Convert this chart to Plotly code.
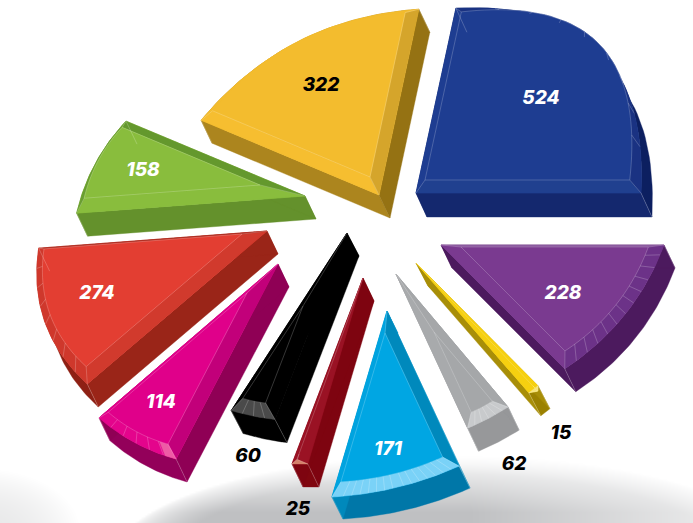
import math
import numpy as np
import plotly.graph_objects as go

# ---- data ----
names = ["blue", "purple", "yellow", "gray", "cyan", "darkred", "black", "magenta", "red", "green", "amber"]
values = [524, 228, 15, 62, 171, 25, 60, 114, 274, 158, 322]

# ---- drawing set-up for the exploded perspective pie (not data) ----
# apex position, first edge angle (clockwise from 12 o'clock), angular stretch, edge radii, arc bulge
GEOM = {
    "blue":    dict(o=(416, 193), t=12.2,  s=0.8055, r=(189, 225), b=72),
    "purple":  dict(o=(441, 245), t=90.0,  s=1.0707, r=(223, 175), b=13),
    "yellow":  dict(o=(416, 263), t=135.2, s=1.374,  r=(173, 172), b=0),
    "gray":    dict(o=(396, 274), t=139.9, s=1.330,  r=(174, 170), b=1),
    "cyan":    dict(o=(387, 311), t=155.1, s=1.313,  r=(171, 194), b=6),
    "darkred": dict(o=(363, 278), t=196.5, s=0.955,  r=(194, 199), b=0),
    "black":   dict(o=(347, 233), t=201.1, s=1.085,  r=(200, 212), b=1),
    "magenta": dict(o=(278, 264), t=207.6, s=1.033,  r=(220, 236), b=5),
    "red":     dict(o=(267, 231), t=229.6, s=0.7147, r=(236, 229), b=19),
    "green":   dict(o=(305, 196), t=265.7, s=0.927,  r=(229, 194), b=7),
    "amber":   dict(o=(379, 195), t=-67.2, s=1.336,  r=(193, 190), b=26),
}
# extrusion vector, inner-face apex shift, inner-face scale, ticks on the rim band, extra inner bulge
BEVEL = {
    "blue":    dict(e=(11, 24), i=(9, -13),  k=0.91,  n=8,  x=9),
    "purple":  dict(e=(11, 23), i=(20, 2),   k=0.84,  n=11, x=0),
    "yellow":  dict(e=(12, 23), i=(117, 123), k=0.04, n=0,  x=0),
    "gray":    dict(e=(11, 23), i=(38, 58),  k=0.52,  n=5,  x=0),
    "cyan":    dict(e=(11, 22), i=(-2, 22),  k=0.80,  n=14, x=0),
    "darkred": dict(e=(11, 23), i=(-64, 176), k=0.03, n=0,  x=0),
    "black":   dict(e=(12, 23), i=(-44, 73), k=0.52,  n=3,  x=0),
    "magenta": dict(e=(11, 23), i=(-31, 29), k=0.775, n=5,  x=0),
    "red":     dict(e=(11, 23), i=(-25, 3),  k=0.867, n=7,  x=0),
    "green":   dict(e=(11, 23), i=(-45, -11), k=0.77, n=0,  x=0),
    "amber":   dict(e=(11, 23), i=(-9, -18), k=0.885, n=0,  x=0),
}
# face, band along edge A, band along edge B, rim band, wall A, wall B, rim wall
PAINT = {
    "blue":    ("#1E3D91", "#1E3D91", "#20408F", "#1A3282", "#14286E", "#14286E", "#0C1F60"),
    "purple":  ("#7A3A90", "#8C5AA0", "#7A3A90", "#6C3288", "#4C1A5E", "#4C1A5E", "#4C1A5E"),
    "yellow":  ("#F6D010", "#F6D010", "#F6D010", "#F5E37A", "#A88E08", "#A88E08", "#9B8100"),
    "gray":    ("#A5A7A9", "#A5A7A9", "#A8AAAC", "#C8CACC", "#969799", "#969799", "#97989A"),
    "cyan":    ("#00A6E3", "#0089BC", "#00A3DF", "#7AD2F7", "#0089BC", "#0089BC", "#0077A8"),
    "darkred": ("#9A1224", "#9A1224", "#9A1224", "#D4806A", "#7E0410", "#7E0410", "#80060F"),
    "black":   ("#000000", "#000000", "#000000", "#4A4A4A", "#000000", "#000000", "#000000"),
    "magenta": ("#E0008A", "#C2007A", "#E0008A", "#E4048C", "#8F0055", "#8F0055", "#93005A"),
    "red":     ("#E33E32", "#D13A2D", "#A52A1E", "#CF382C", "#9A2518", "#9A2518", "#8E2014"),
    "green":   ("#89BD3D", "#89BD3D", "#64982D", "#6A9E30", "#64912C", "#64912C", "#64912C"),
    "amber":   ("#F3BC2E", "#F6BE30", "#D5A52B", "#F3BC2E", "#AC851E", "#957213", "#957213"),
}
TIP = {"magenta": "#EE5BA5"}
# label anchor relative to the apex, label colour
LABEL = {
    "blue": ((125, -96), "white"), "purple": ((122, 47), "white"), "yellow": ((145, 169), "black"),
    "gray": ((118, 189), "black"), "cyan": ((1, 137), "white"), "darkred": ((-65, 230), "black"),
    "black": ((-99, 222), "black"), "magenta": ((-117, 137), "white"), "red": ((-170, 61), "white"),
    "green": ((-162, -27), "white"), "amber": ((-58, -111), "black"),
}
LABEL_DROP = 2
FONT = "Inter, 'Open Sans', sans-serif"
total = sum(values)
fig = go.Figure()

# soft floor shadow behind the pie
gx = np.arange(0, 694, 2.0)
gy = np.arange(444, 524, 2.0)
X, Y = np.meshgrid(gx, gy)
main_d = ((X - 450) / 340.0) ** 2 + ((Y - 563) / 108.0) ** 2
main = np.clip((1 - main_d) * 3.2, 0, 1) ** 0.6 * np.clip((Y - 452) / 60.0, 0, 1)
main = main * np.clip((830 - X) / 360.0, 0, 1)
corner_d = ((X + 20) / 100.0) ** 2 + ((Y - 530) / 62.0) ** 2
corner = np.clip(1 - corner_d, 0, 1) * 0.36
shade = np.maximum(main, corner)
fig.add_trace(go.Heatmap(x=gx, y=gy, z=shade, zmin=0, zmax=1, showscale=False, hoverinfo="skip",
                         colorscale=[[0, "#FFFFFF"], [1, "#BFC0C2"]], zsmooth="best"))


def poly(points, color):
    pts = list(points) + [points[0]]
    fig.add_trace(go.Scatter(x=[p[0] for p in pts], y=[p[1] for p in pts], mode="lines", fill="toself",
                             fillcolor=color, line=dict(color=color, width=0.4), hoverinfo="skip"))


def lines(segments, color, width=0.7):
    xs, ys = [], []
    for a, b in segments:
        xs += [a[0], b[0], None]
        ys += [a[1], b[1], None]
    fig.add_trace(go.Scatter(x=xs, y=ys, mode="lines", line=dict(color=color, width=width), hoverinfo="skip"))


def rim(g, value):
    ox, oy = g["o"]
    t1 = math.radians(g["t"])
    t2 = math.radians(g["t"] + g["s"] * 360.0 * value / total)
    a = np.array([ox + g["r"][0] * math.sin(t1), oy - g["r"][0] * math.cos(t1)])
    b = np.array([ox + g["r"][1] * math.sin(t2), oy - g["r"][1] * math.cos(t2)])
    m = (a + b) / 2
    chord = b - a
    nrm = np.array([chord[1], -chord[0]]) / np.hypot(*chord)
    if np.dot(nrm, m - np.array([ox, oy])) < 0:
        nrm = -nrm
    c = m + 2 * g["b"] * nrm
    t = np.linspace(0, 1, 48)[:, None]
    return (1 - t) ** 2 * a + 2 * t * (1 - t) * c + t ** 2 * b, nrm, t


for name, value in zip(names, values):
    g, v, paint = GEOM[name], BEVEL[name], PAINT[name]
    face, band_a, band_b, band_rim, wall_a, wall_b, wall_rim = paint
    o = np.array(g["o"], float)
    e = np.array(v["e"], float)
    arc, nrm, t = rim(g, value)
    a, b = arc[0], arc[-1]
    io = o + np.array(v["i"], float)
    inner = io + (arc - o) * v["k"] + v["x"] * 4 * t * (1 - t) * nrm
    ia, ib = inner[0], inner[-1]

    poly(list(arc) + list((arc + e)[::-1]), wall_rim)
    poly([o, a, a + e, o + e], wall_a)
    poly([o, b, b + e, o + e], wall_b)
    poly([o] + list(arc), face)
    poly([o, a, ia, io], band_a)
    poly([o, b, ib, io], band_b)
    poly(list(arc) + list(inner[::-1]), band_rim)
    if name in TIP:
        poly(list(arc[:7]) + list(inner[:7][::-1]), TIP[name])
    poly([io] + list(inner), face)

    segs = [(o, io), (a, ia), (b, ib), (a, a + e), (b, b + e), (io, ia), (io, ib)]
    if name != "amber":
        segs += [(inner[j], inner[j + 1]) for j in range(len(inner) - 1)]
    if v["n"]:
        for j in np.linspace(0, len(arc) - 1, v["n"] + 2)[1:-1].astype(int):
            segs.append((arc[j], inner[j]))
    lines(segs, "rgba(255,255,255,0.3)")

for name, value in zip(names, values):
    (dx, dy), color = LABEL[name]
    ox, oy = GEOM[name]["o"]
    fig.add_trace(go.Scatter(x=[ox + dx], y=[oy + dy + LABEL_DROP], mode="text", text=[str(value)], hoverinfo="skip",
                             textfont=dict(family=FONT, size=19, color=color, weight=800, style="italic")))

fig.update_layout(width=693, height=523, margin=dict(l=0, r=0, t=0, b=0), showlegend=False,
                  plot_bgcolor="white", paper_bgcolor="white",
                  xaxis=dict(range=[0, 693], visible=False, fixedrange=True),
                  yaxis=dict(range=[523, 0], visible=False, fixedrange=True))
fig.write_html("out.html", config=dict(displayModeBar=False),
               post_script="document.body.style.margin='0';")
